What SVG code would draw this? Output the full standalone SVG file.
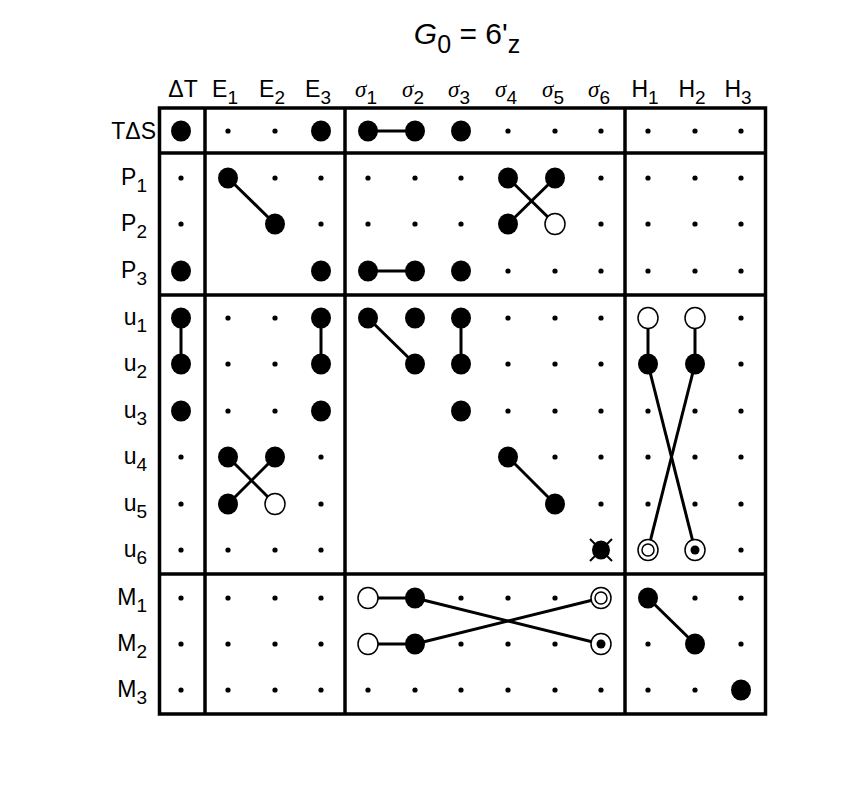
<svg xmlns="http://www.w3.org/2000/svg" width="856" height="812" viewBox="0 0 856 812">
<style>
text{font-family:"Liberation Sans",Arial,sans-serif;fill:#000}
.h{font-size:23px;text-anchor:middle}
.r{font-size:23px;text-anchor:end}
.s{font-size:19px}
.g{font-family:"Liberation Serif",serif;font-style:italic}
.b{fill:none;stroke:#000;stroke-width:3.5}
.c line{stroke:#000;stroke-width:3}
.F{fill:#000}
.O{fill:#fff;stroke:#000;stroke-width:1.5}
</style>
<defs>
<ellipse id="F" rx="10" ry="10.5" class="F"/>
<circle id="d" r="2.6" class="F"/>
<ellipse id="O" rx="10" ry="10.5" class="O"/>
<g id="D"><ellipse rx="10" ry="10.5" class="O"/><circle r="6" class="O"/></g>
<g id="B"><ellipse rx="10" ry="10.5" class="O"/><circle r="4.5" class="F"/></g>
<g id="X"><line x1="-11" y1="-11" x2="11" y2="11" stroke="#000" stroke-width="2"/><line x1="11" y1="-11" x2="-11" y2="11" stroke="#000" stroke-width="2"/><ellipse rx="9" ry="9.5" class="F"/></g>
</defs>
<rect width="856" height="812" fill="#fff"/>
<text x="467" y="44" style="font-size:30px;text-anchor:middle"><tspan style="font-style:italic">G</tspan><tspan dy="9" style="font-size:25px">0</tspan><tspan dy="-9"> = 6'</tspan><tspan dy="9" style="font-size:25px">z</tspan></text>
<g id="headers">
<text class="h" x="183" y="97">ΔT</text>
<text class="h" x="225" y="97">E<tspan class="s" dy="7">1</tspan></text>
<text class="h" x="272" y="97">E<tspan class="s" dy="7">2</tspan></text>
<text class="h" x="318" y="97">E<tspan class="s" dy="7">3</tspan></text>
<text class="h" x="366" y="97"><tspan class="g">σ</tspan><tspan class="s" dy="7">1</tspan></text>
<text class="h" x="413" y="97"><tspan class="g">σ</tspan><tspan class="s" dy="7">2</tspan></text>
<text class="h" x="459" y="97"><tspan class="g">σ</tspan><tspan class="s" dy="7">3</tspan></text>
<text class="h" x="506" y="97"><tspan class="g">σ</tspan><tspan class="s" dy="7">4</tspan></text>
<text class="h" x="553" y="97"><tspan class="g">σ</tspan><tspan class="s" dy="7">5</tspan></text>
<text class="h" x="599" y="97"><tspan class="g">σ</tspan><tspan class="s" dy="7">6</tspan></text>
<text class="h" x="645" y="97">H<tspan class="s" dy="7">1</tspan></text>
<text class="h" x="692" y="97">H<tspan class="s" dy="7">2</tspan></text>
<text class="h" x="738" y="97">H<tspan class="s" dy="7">3</tspan></text>
</g>
<g id="rowlabels">
<text class="r" x="156" y="139">TΔS</text>
<text class="r" x="147" y="185">P<tspan class="s" dy="7">1</tspan></text>
<text class="r" x="147" y="231">P<tspan class="s" dy="7">2</tspan></text>
<text class="r" x="147" y="278">P<tspan class="s" dy="7">3</tspan></text>
<text class="r" x="147" y="325">u<tspan class="s" dy="7">1</tspan></text>
<text class="r" x="147" y="371">u<tspan class="s" dy="7">2</tspan></text>
<text class="r" x="147" y="418">u<tspan class="s" dy="7">3</tspan></text>
<text class="r" x="147" y="464">u<tspan class="s" dy="7">4</tspan></text>
<text class="r" x="147" y="511">u<tspan class="s" dy="7">5</tspan></text>
<text class="r" x="147" y="557">u<tspan class="s" dy="7">6</tspan></text>
<text class="r" x="147" y="605">M<tspan class="s" dy="7">1</tspan></text>
<text class="r" x="147" y="651">M<tspan class="s" dy="7">2</tspan></text>
<text class="r" x="147" y="697">M<tspan class="s" dy="7">3</tspan></text>
</g>
<g id="frame">
<rect class="b" x="159.5" y="108" width="606" height="606"/>
<line class="b" x1="205" y1="108" x2="205" y2="714"/>
<line class="b" x1="345" y1="108" x2="345" y2="714"/>
<line class="b" x1="625" y1="108" x2="625" y2="714"/>
<line class="b" x1="159.5" y1="153" x2="765.5" y2="153"/>
<line class="b" x1="159.5" y1="295" x2="765.5" y2="295"/>
<line class="b" x1="159.5" y1="574" x2="765.5" y2="574"/>
</g>
<g id="connectors" class="c">
<line x1="368" y1="131" x2="415" y2="131"/>
<line x1="228" y1="178" x2="275" y2="224"/>
<line x1="508" y1="178" x2="555" y2="224"/>
<line x1="555" y1="178" x2="508" y2="224"/>
<line x1="368" y1="271" x2="415" y2="271"/>
<line x1="181" y1="318" x2="181" y2="364"/>
<line x1="321" y1="318" x2="321" y2="364"/>
<line x1="368" y1="318" x2="415" y2="364"/>
<line x1="461" y1="318" x2="461" y2="364"/>
<line x1="228" y1="457" x2="275" y2="504"/>
<line x1="275" y1="457" x2="228" y2="504"/>
<line x1="508" y1="457" x2="555" y2="504"/>
<line x1="648" y1="318" x2="648" y2="364"/>
<line x1="695" y1="318" x2="695" y2="364"/>
<line x1="648" y1="364" x2="695" y2="550"/>
<line x1="695" y1="364" x2="648" y2="550"/>
<line x1="368" y1="598" x2="415" y2="598"/>
<line x1="415" y1="598" x2="601" y2="644"/>
<line x1="368" y1="644" x2="415" y2="644"/>
<line x1="415" y1="644" x2="601" y2="598"/>
<line x1="648" y1="598" x2="695" y2="644"/>
</g>
<g id="nodes">
<use href="#F" x="181" y="131"/><use href="#d" x="228" y="131"/><use href="#d" x="275" y="131"/><use href="#F" x="321" y="131"/>
<use href="#F" x="368" y="131"/><use href="#F" x="415" y="131"/><use href="#F" x="461" y="131"/><use href="#d" x="508" y="131"/><use href="#d" x="555" y="131"/><use href="#d" x="601" y="131"/>
<use href="#d" x="648" y="131"/><use href="#d" x="695" y="131"/><use href="#d" x="741" y="131"/>
<use href="#d" x="181" y="178"/><use href="#F" x="228" y="178"/><use href="#d" x="275" y="178"/><use href="#d" x="321" y="178"/>
<use href="#d" x="368" y="178"/><use href="#d" x="415" y="178"/><use href="#d" x="461" y="178"/><use href="#F" x="508" y="178"/><use href="#F" x="555" y="178"/><use href="#d" x="601" y="178"/>
<use href="#d" x="648" y="178"/><use href="#d" x="695" y="178"/><use href="#d" x="741" y="178"/>
<use href="#d" x="181" y="224"/><use href="#F" x="275" y="224"/><use href="#d" x="321" y="224"/>
<use href="#d" x="368" y="224"/><use href="#d" x="415" y="224"/><use href="#d" x="461" y="224"/><use href="#F" x="508" y="224"/><use href="#O" x="555" y="224"/><use href="#d" x="601" y="224"/>
<use href="#d" x="648" y="224"/><use href="#d" x="695" y="224"/><use href="#d" x="741" y="224"/>
<use href="#F" x="181" y="271"/><use href="#F" x="321" y="271"/>
<use href="#F" x="368" y="271"/><use href="#F" x="415" y="271"/><use href="#F" x="461" y="271"/><use href="#d" x="508" y="271"/><use href="#d" x="555" y="271"/><use href="#d" x="601" y="271"/>
<use href="#d" x="648" y="271"/><use href="#d" x="695" y="271"/><use href="#d" x="741" y="271"/>
<use href="#F" x="181" y="318"/><use href="#d" x="228" y="318"/><use href="#d" x="275" y="318"/><use href="#F" x="321" y="318"/>
<use href="#F" x="368" y="318"/><use href="#F" x="415" y="318"/><use href="#F" x="461" y="318"/><use href="#d" x="508" y="318"/><use href="#d" x="555" y="318"/><use href="#d" x="601" y="318"/>
<use href="#O" x="648" y="318"/><use href="#O" x="695" y="318"/><use href="#d" x="741" y="318"/>
<use href="#F" x="181" y="364"/><use href="#d" x="228" y="364"/><use href="#d" x="275" y="364"/><use href="#F" x="321" y="364"/>
<use href="#F" x="415" y="364"/><use href="#F" x="461" y="364"/><use href="#d" x="508" y="364"/><use href="#d" x="555" y="364"/><use href="#d" x="601" y="364"/>
<use href="#F" x="648" y="364"/><use href="#F" x="695" y="364"/><use href="#d" x="741" y="364"/>
<use href="#F" x="181" y="411"/><use href="#d" x="228" y="411"/><use href="#d" x="275" y="411"/><use href="#F" x="321" y="411"/>
<use href="#F" x="461" y="411"/><use href="#d" x="508" y="411"/><use href="#d" x="555" y="411"/><use href="#d" x="601" y="411"/>
<use href="#d" x="648" y="411"/><use href="#d" x="695" y="411"/><use href="#d" x="741" y="411"/>
<use href="#d" x="181" y="457"/><use href="#F" x="228" y="457"/><use href="#F" x="275" y="457"/><use href="#d" x="321" y="457"/>
<use href="#F" x="508" y="457"/><use href="#d" x="555" y="457"/><use href="#d" x="601" y="457"/>
<use href="#d" x="648" y="457"/><use href="#d" x="695" y="457"/><use href="#d" x="741" y="457"/>
<use href="#d" x="181" y="504"/><use href="#F" x="228" y="504"/><use href="#O" x="275" y="504"/><use href="#d" x="321" y="504"/>
<use href="#F" x="555" y="504"/><use href="#d" x="601" y="504"/>
<use href="#d" x="648" y="504"/><use href="#d" x="695" y="504"/><use href="#d" x="741" y="504"/>
<use href="#d" x="181" y="550"/><use href="#d" x="228" y="550"/><use href="#d" x="275" y="550"/><use href="#d" x="321" y="550"/>
<use href="#X" x="601" y="550"/>
<use href="#D" x="648" y="550"/><use href="#B" x="695" y="550"/><use href="#d" x="741" y="550"/>
<use href="#d" x="181" y="598"/><use href="#d" x="228" y="598"/><use href="#d" x="275" y="598"/><use href="#d" x="321" y="598"/>
<use href="#O" x="368" y="598"/><use href="#F" x="415" y="598"/><use href="#d" x="461" y="598"/><use href="#d" x="508" y="598"/><use href="#d" x="555" y="598"/><use href="#D" x="601" y="598"/>
<use href="#F" x="648" y="598"/><use href="#d" x="695" y="598"/><use href="#d" x="741" y="598"/>
<use href="#d" x="181" y="644"/><use href="#d" x="228" y="644"/><use href="#d" x="275" y="644"/><use href="#d" x="321" y="644"/>
<use href="#O" x="368" y="644"/><use href="#F" x="415" y="644"/><use href="#d" x="461" y="644"/><use href="#d" x="508" y="644"/><use href="#d" x="555" y="644"/><use href="#B" x="601" y="644"/>
<use href="#d" x="648" y="644"/><use href="#F" x="695" y="644"/><use href="#d" x="741" y="644"/>
<use href="#d" x="181" y="690"/><use href="#d" x="228" y="690"/><use href="#d" x="275" y="690"/><use href="#d" x="321" y="690"/>
<use href="#d" x="368" y="690"/><use href="#d" x="415" y="690"/><use href="#d" x="461" y="690"/><use href="#d" x="508" y="690"/><use href="#d" x="555" y="690"/><use href="#d" x="601" y="690"/>
<use href="#d" x="648" y="690"/><use href="#d" x="695" y="690"/><use href="#F" x="741" y="690"/>
</g>
</svg>
